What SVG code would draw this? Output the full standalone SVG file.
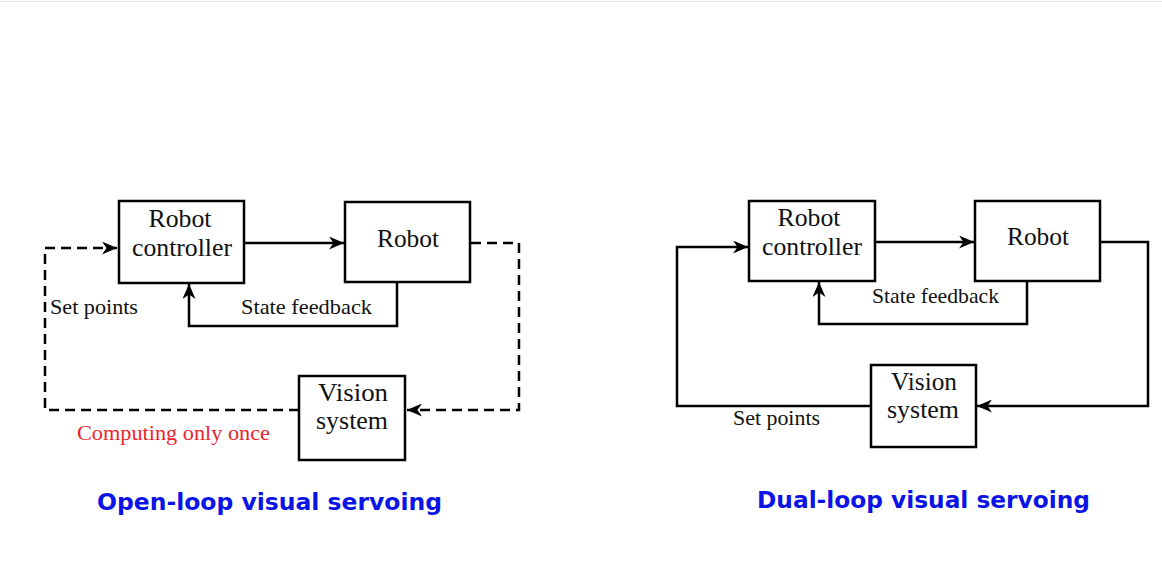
<svg xmlns="http://www.w3.org/2000/svg" width="1162" height="578" viewBox="0 0 1162 578">
<style>
.box{fill:#fff;stroke:#000;stroke-width:2.5}
.lbl{font-family:"Liberation Serif","Times New Roman",serif;font-size:25px;fill:#111;text-anchor:middle}
.sm{font-family:"Liberation Serif","Times New Roman",serif;font-size:22px;fill:#111}
.red{fill:#e8262b}
.title{font-family:"DejaVu Sans",sans-serif;font-weight:bold;font-size:23px;fill:#0a14e6}
.ln{fill:none;stroke:#000;stroke-width:2.5}
.dash{stroke-dasharray:10 6}
</style>
<defs>
<marker id="ah" viewBox="0 0 15 13" refX="15" refY="6.5" markerWidth="15" markerHeight="13" markerUnits="userSpaceOnUse" orient="auto">
<path d="M0,0 L15,6.5 L0,13 L4.5,6.5 Z" fill="#000"/>
</marker>
</defs>
<rect x="0" y="0" width="1162" height="578" fill="#fff"/>
<line x1="0" y1="1.5" x2="1162" y2="1.5" stroke="#e6e6e6" stroke-width="1"/>

<g id="connectors">
<path class="ln" d="M244,243 L344,243" marker-end="url(#ah)"/>
<path class="ln dash" d="M471,243 L519,243 L519,410 L407,410" marker-end="url(#ah)"/>
<path class="ln dash" d="M299,410 L45,410 L45,248 L117,248" marker-end="url(#ah)"/>
<path class="ln" d="M397,282 L397,326 L189,326 L189,284" marker-end="url(#ah)"/>
<path class="ln" d="M875,242 L974,242" marker-end="url(#ah)"/>
<path class="ln" d="M1100,242 L1148,242 L1148,406 L977,406" marker-end="url(#ah)"/>
<path class="ln" d="M871,406 L677,406 L677,247 L748,247" marker-end="url(#ah)"/>
<path class="ln" d="M1027,281 L1027,324 L819,324 L819,282" marker-end="url(#ah)"/>
</g>

<g id="left-controller">
<rect class="box" x="119" y="201" width="125" height="82"/>
<text class="lbl" x="180" y="227" textLength="63" lengthAdjust="spacingAndGlyphs">Robot</text>
<text class="lbl" x="182" y="256" textLength="100" lengthAdjust="spacingAndGlyphs">controller</text>
</g>
<g id="left-robot">
<rect class="box" x="345" y="202" width="125" height="80"/>
<text class="lbl" x="408" y="247" textLength="62" lengthAdjust="spacingAndGlyphs">Robot</text>
</g>
<g id="left-vision">
<rect class="box" x="299" y="376" width="106" height="84"/>
<text class="lbl" x="353" y="401" textLength="70" lengthAdjust="spacingAndGlyphs">Vision</text>
<text class="lbl" x="352" y="429" textLength="72" lengthAdjust="spacingAndGlyphs">system</text>
</g>
<g id="left-labels">
<text class="sm" x="50" y="314" textLength="88" lengthAdjust="spacingAndGlyphs">Set points</text>
<text class="sm" x="241" y="314" textLength="131" lengthAdjust="spacingAndGlyphs">State feedback</text>
<text class="sm red" x="77" y="440" textLength="193" lengthAdjust="spacingAndGlyphs">Computing only once</text>
<text class="title" x="97" y="510" textLength="345" lengthAdjust="spacingAndGlyphs">Open-loop visual servoing</text>
</g>

<g id="right-controller">
<rect class="box" x="749" y="201" width="126" height="80"/>
<text class="lbl" x="809" y="226" textLength="63" lengthAdjust="spacingAndGlyphs">Robot</text>
<text class="lbl" x="812" y="255" textLength="100" lengthAdjust="spacingAndGlyphs">controller</text>
</g>
<g id="right-robot">
<rect class="box" x="975" y="201" width="125" height="80"/>
<text class="lbl" x="1038" y="245" textLength="62" lengthAdjust="spacingAndGlyphs">Robot</text>
</g>
<g id="right-vision">
<rect class="box" x="871" y="365" width="105" height="82"/>
<text class="lbl" x="924" y="390" textLength="66" lengthAdjust="spacingAndGlyphs">Vision</text>
<text class="lbl" x="923" y="418" textLength="72" lengthAdjust="spacingAndGlyphs">system</text>
</g>
<g id="right-labels">
<text class="sm" x="872" y="303" textLength="127" lengthAdjust="spacingAndGlyphs">State feedback</text>
<text class="sm" x="733" y="425" textLength="87" lengthAdjust="spacingAndGlyphs">Set points</text>
<text class="title" x="757" y="508" textLength="333" lengthAdjust="spacingAndGlyphs">Dual-loop visual servoing</text>
</g>
</svg>
